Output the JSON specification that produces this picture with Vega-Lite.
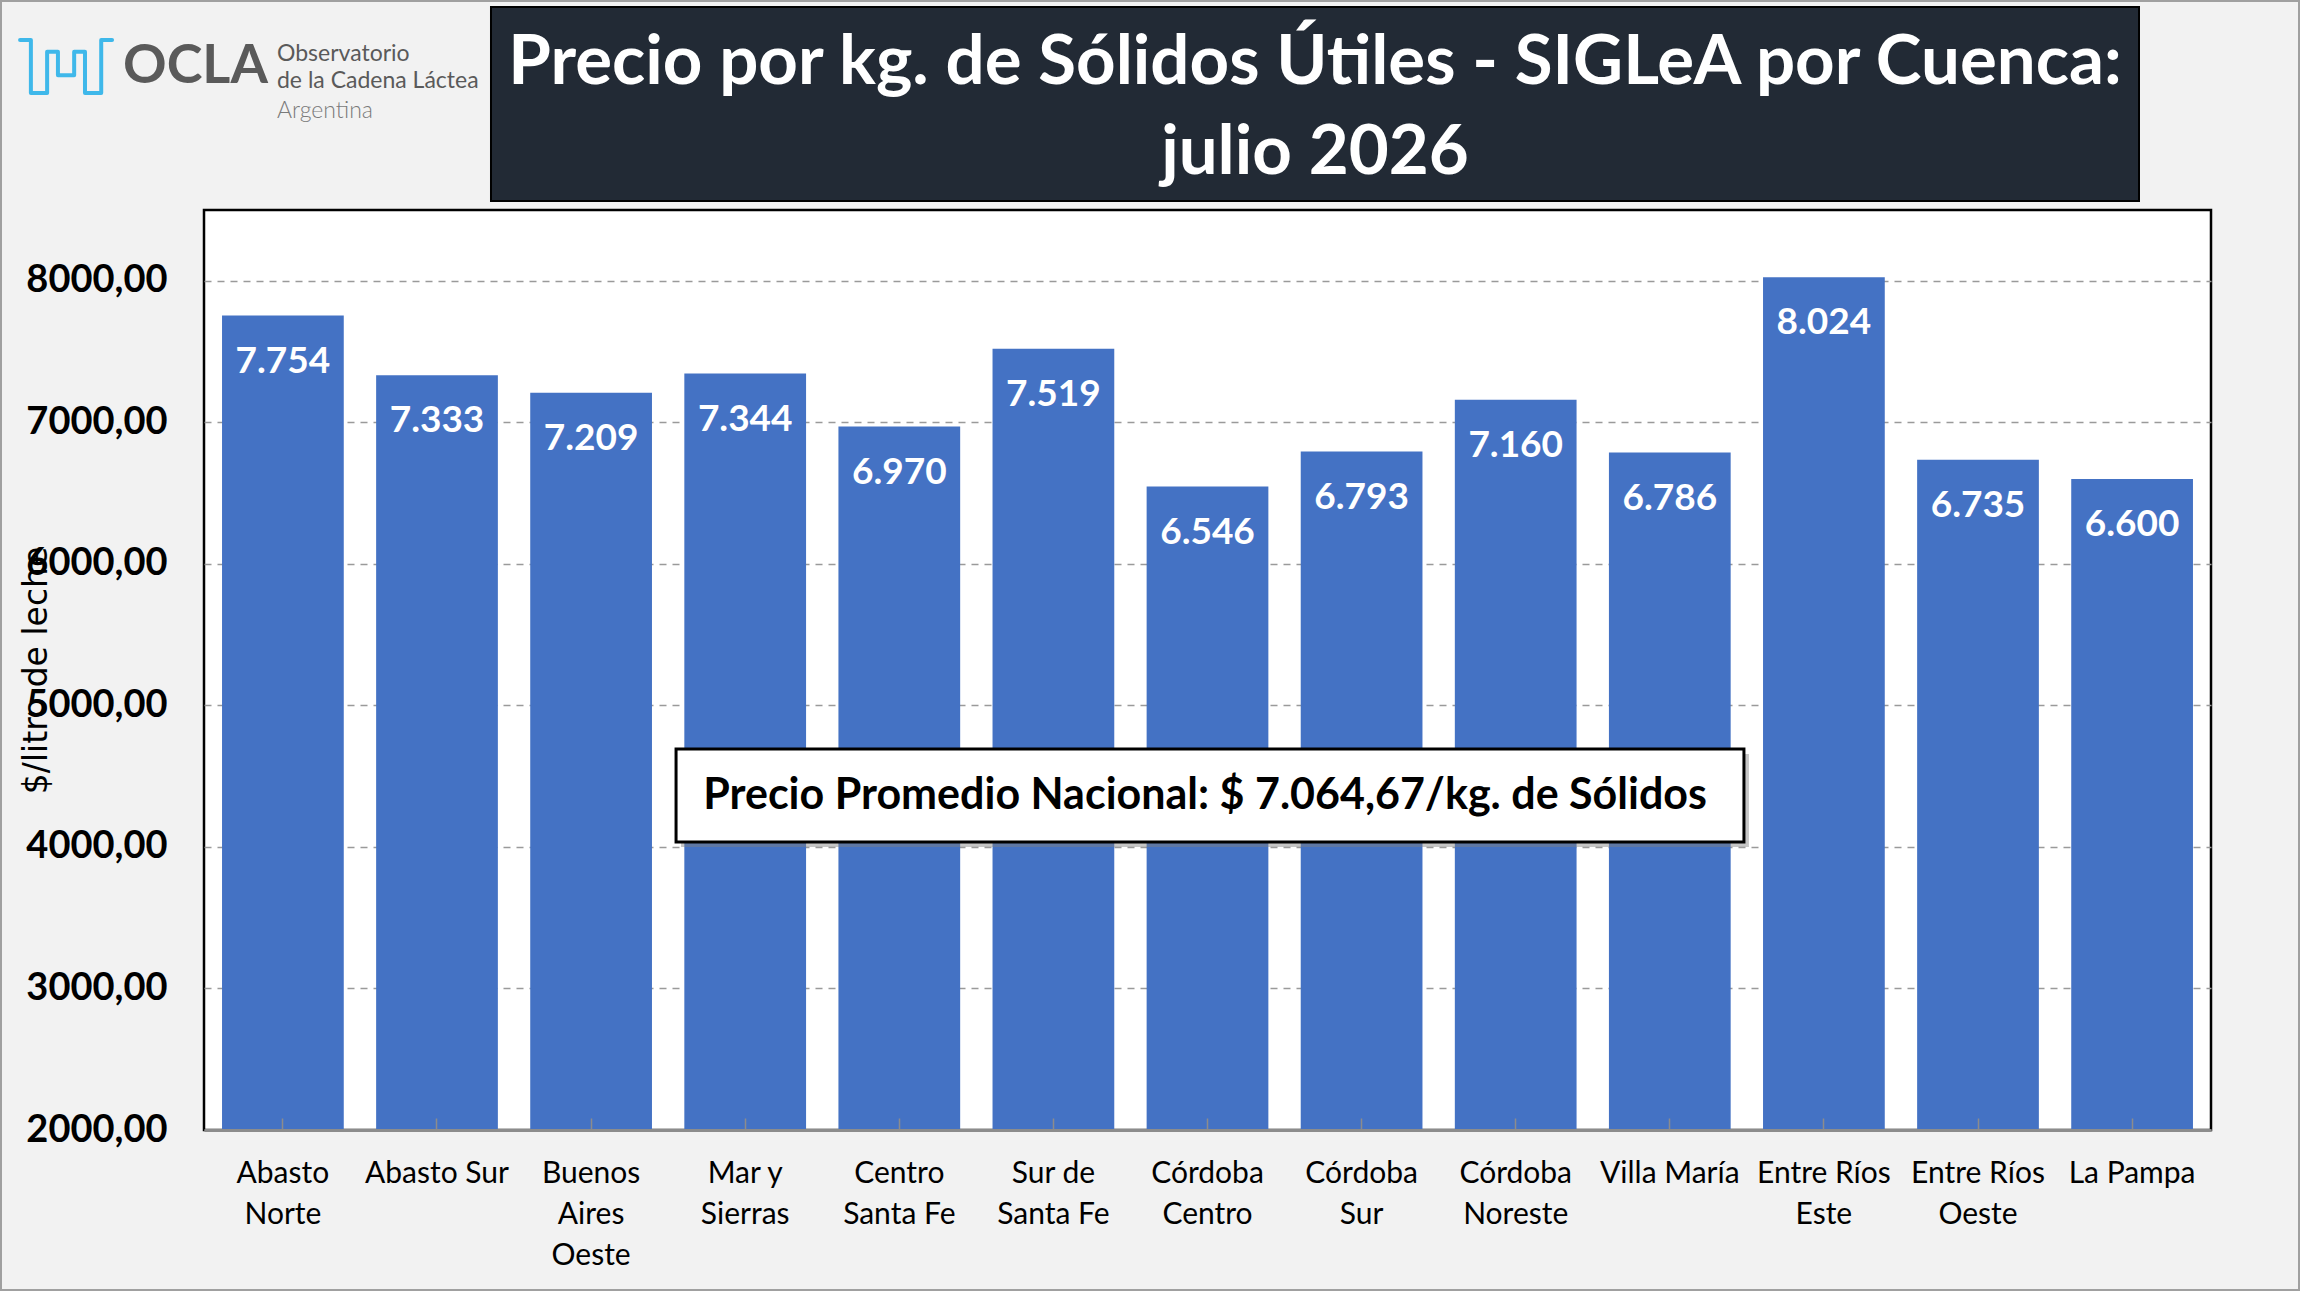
{
  "$schema": "https://vega.github.io/schema/vega-lite/v6.json",
  "description": "Precio por kg. de Sólidos Útiles - SIGLeA por Cuenca: julio 2026",
  "background": "#f2f2f2",
  "autosize": "none",
  "padding": {"left": 204, "top": 210, "right": 89, "bottom": 161},
  "width": 2007,
  "height": 920,
  "view": {"fill": "#ffffff", "stroke": "#000000", "strokeWidth": 2.5},
  "config": {
    "font": "Lato",
    "locale": {
      "number": {"decimal": ",", "thousands": ".", "grouping": [3], "currency": ["$", ""]}
    }
  },
  "resolve": {"scale": {"x": "independent", "y": "independent"}},
  "layer": [
    {
      "data": {
        "values": [
          {"cuenca": "Abasto Norte", "precio": 7754},
          {"cuenca": "Abasto Sur", "precio": 7333},
          {"cuenca": "Buenos Aires Oeste", "precio": 7209},
          {"cuenca": "Mar y Sierras", "precio": 7344},
          {"cuenca": "Centro Santa Fe", "precio": 6970},
          {"cuenca": "Sur de Santa Fe", "precio": 7519},
          {"cuenca": "Córdoba Centro", "precio": 6546},
          {"cuenca": "Córdoba Sur", "precio": 6793},
          {"cuenca": "Córdoba Noreste", "precio": 7160},
          {"cuenca": "Villa María", "precio": 6786},
          {"cuenca": "Entre Ríos Este", "precio": 8024},
          {"cuenca": "Entre Ríos Oeste", "precio": 6735},
          {"cuenca": "La Pampa", "precio": 6600}
        ]
      },
      "encoding": {
        "x": {
          "field": "cuenca",
          "type": "nominal",
          "sort": null,
          "title": null,
          "scale": {"paddingInner": 0.21, "paddingOuter": 0.117},
          "axis": {
            "zindex": 1,
            "labelAngle": 0,
            "labelFont": "Lato",
            "labelFontSize": 30,
            "labelColor": "#000000",
            "labelPadding": 40,
            "labelLineHeight": 41,
            "labelLimit": 400,
            "ticks": true,
            "tickSize": -12,
            "tickColor": "#8c8c8c",
            "tickWidth": 1.5,
            "domainColor": "#8c8c8c",
            "domainWidth": 3,
            "labelExpr": "{'Abasto Norte': ['Abasto', 'Norte'], 'Buenos Aires Oeste': ['Buenos', 'Aires', 'Oeste'], 'Mar y Sierras': ['Mar y', 'Sierras'], 'Centro Santa Fe': ['Centro', 'Santa Fe'], 'Sur de Santa Fe': ['Sur de', 'Santa Fe'], 'Córdoba Centro': ['Córdoba', 'Centro'], 'Córdoba Sur': ['Córdoba', 'Sur'], 'Córdoba Noreste': ['Córdoba', 'Noreste'], 'Entre Ríos Este': ['Entre Ríos', 'Este'], 'Entre Ríos Oeste': ['Entre Ríos', 'Oeste']}[datum.label] || datum.label"
          }
        }
      },
      "layer": [
        {
          "mark": {"type": "bar", "color": "#4472c4", "clip": true},
          "encoding": {
            "y": {
              "field": "precio",
              "type": "quantitative",
              "scale": {"domain": [2000, 8500], "nice": false, "zero": false},
              "axis": {
                "values": [2000, 3000, 4000, 5000, 6000, 7000, 8000],
                "format": ".2f",
                "title": "$/litro de leche",
                "titleFont": "DejaVu Sans",
                "titleFontSize": 33,
                "titleFontWeight": "normal",
                "titleColor": "#000000",
                "titleAngle": 270,
                "titleAlign": "center",
                "titleBaseline": "middle",
                "titleX": -168,
                "titleY": 460,
                "labelFont": "Lato",
                "labelFontSize": 38,
                "labelFontWeight": "bold",
                "labelColor": "#000000",
                "labelPadding": 37,
                "ticks": false,
                "domain": false,
                "grid": true,
                "gridColor": "#9a9a9a",
                "gridWidth": 1.5,
                "gridDash": [7, 6]
              }
            }
          }
        },
        {
          "mark": {"type": "text", "color": "#ffffff", "fontWeight": "bold", "fontSize": 37, "baseline": "middle", "dy": 46},
          "encoding": {
            "y": {"field": "precio", "type": "quantitative"},
            "text": {"field": "precio", "type": "quantitative", "format": ",.0f"}
          }
        },
        {
          "data": {"values": [{}]},
          "mark": {"type": "rect", "color": "#808080", "opacity": 0.45, "xOffset": 5, "x2Offset": 5, "yOffset": 5, "y2Offset": 5},
          "encoding": {
            "x": {"datum": "Mar y Sierras", "bandPosition": -0.068},
            "x2": {"datum": "Villa María", "bandPosition": 1.109},
            "y": {"datum": 4692},
            "y2": {"datum": 4035}
          }
        },
        {
          "data": {"values": [{}]},
          "mark": {"type": "rect", "fill": "#ffffff", "stroke": "#000000", "strokeWidth": 3},
          "encoding": {
            "x": {"datum": "Mar y Sierras", "bandPosition": -0.068},
            "x2": {"datum": "Villa María", "bandPosition": 1.109},
            "y": {"datum": 4692},
            "y2": {"datum": 4035}
          }
        },
        {
          "data": {"values": [{}]},
          "mark": {"type": "text", "text": "Precio Promedio Nacional: $ 7.064,67/kg.  de Sólidos", "fontSize": 43, "fontWeight": "bold", "color": "#000000", "align": "center", "baseline": "middle"},
          "encoding": {
            "x": {"datum": "Córdoba Centro", "bandPosition": 0.48},
            "y": {"datum": 4360}
          }
        },
        {
          "data": {"values": [{}]},
          "mark": {"type": "rect", "fill": "#222a35", "stroke": "#000000", "strokeWidth": 2},
          "encoding": {
            "x": {"datum": "Abasto Sur", "bandPosition": 0.9435},
            "x2": {"datum": "La Pampa", "bandPosition": 0.5567},
            "y": {"datum": 9934},
            "y2": {"datum": 8564}
          }
        },
        {
          "data": {"values": [{}]},
          "mark": {"type": "text", "text": "Precio por kg. de Sólidos Útiles - SIGLeA por Cuenca:", "fontSize": 69, "fontWeight": "bold", "color": "#ffffff", "align": "center", "baseline": "middle"},
          "encoding": {
            "x": {"datum": "Córdoba Sur", "bandPosition": 0.117},
            "y": {"datum": 9539}
          }
        },
        {
          "data": {"values": [{}]},
          "mark": {"type": "text", "text": "julio 2026", "fontSize": 69, "fontWeight": "bold", "color": "#ffffff", "align": "center", "baseline": "middle"},
          "encoding": {
            "x": {"datum": "Córdoba Sur", "bandPosition": 0.117},
            "y": {"datum": 8903}
          }
        },
        {
          "data": {"values": [{}]},
          "mark": {"type": "text", "text": "OCLA", "fontSize": 54, "fontWeight": "bold", "color": "#5a5a5a", "align": "left", "baseline": "middle"},
          "encoding": {
            "x": {"datum": "Abasto Norte", "bandPosition": -0.8134},
            "y": {"datum": 9510}
          }
        },
        {
          "data": {"values": [{}]},
          "mark": {"type": "text", "text": "Observatorio", "fontSize": 23, "color": "#5a5a5a", "align": "left", "baseline": "middle"},
          "encoding": {
            "x": {"datum": "Abasto Norte", "bandPosition": 0.4515},
            "y": {"datum": 9602}
          }
        },
        {
          "data": {"values": [{}]},
          "mark": {"type": "text", "text": "de la Cadena Láctea", "fontSize": 23, "color": "#5a5a5a", "align": "left", "baseline": "middle"},
          "encoding": {
            "x": {"datum": "Abasto Norte", "bandPosition": 0.4515},
            "y": {"datum": 9411}
          }
        },
        {
          "data": {"values": [{}]},
          "mark": {"type": "text", "text": "Argentina", "fontSize": 23, "fontWeight": 300, "color": "#7a7a7a", "align": "left", "baseline": "middle"},
          "encoding": {
            "x": {"datum": "Abasto Norte", "bandPosition": 0.4515},
            "y": {"datum": 9200}
          }
        },
        {
          "data": {"values": [{}]},
          "mark": {"type": "rect", "fill": null, "fillOpacity": 0, "stroke": "#a0a0a0", "strokeWidth": 2},
          "encoding": {
            "x": {"datum": "Abasto Norte", "bandPosition": -1.8156},
            "x2": {"datum": "La Pampa", "bandPosition": 1.871},
            "y": {"datum": 9977},
            "y2": {"datum": 870}
          }
        }
      ]
    },
    {
      "data": {
        "values": [
          {"i": 1, "px": 0, "py": 10},
          {"i": 2, "px": 1, "py": 10},
          {"i": 3, "px": 1, "py": 1},
          {"i": 4, "px": 2.5, "py": 1},
          {"i": 5, "px": 2.5, "py": 8},
          {"i": 6, "px": 3.5, "py": 8},
          {"i": 7, "px": 3.5, "py": 4},
          {"i": 8, "px": 5, "py": 4},
          {"i": 9, "px": 5, "py": 8},
          {"i": 10, "px": 6, "py": 8},
          {"i": 11, "px": 6, "py": 1},
          {"i": 12, "px": 7.5, "py": 1},
          {"i": 13, "px": 7.5, "py": 10},
          {"i": 14, "px": 8.5, "py": 10}
        ]
      },
      "mark": {"type": "line", "color": "#3fb8ea", "strokeWidth": 4, "strokeCap": "round", "strokeJoin": "round"},
      "encoding": {
        "x": {"field": "px", "type": "quantitative", "scale": {"domain": [17, 202.5], "nice": false, "zero": false}, "axis": null},
        "y": {"field": "py", "type": "quantitative", "scale": {"domain": [-175.09, -18.87], "nice": false, "zero": false}, "axis": null},
        "order": {"field": "i"}
      }
    }
  ]
}
